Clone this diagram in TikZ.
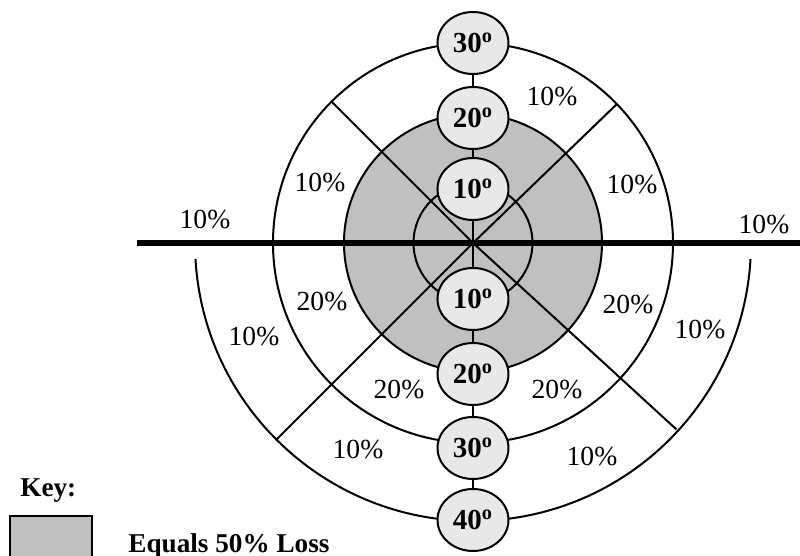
\documentclass[tikz,border=0pt]{standalone}
\usepackage{fontspec}
\setmainfont{Liberation Serif}
\usetikzlibrary{shapes.geometric, positioning}
\definecolor{lossgray}{HTML}{C0C0C0}
\definecolor{degfill}{HTML}{E8E8E8}

\begin{document}
\begin{tikzpicture}[x=0.5pt, y=0.5pt,
    deg/.style={ellipse, draw, line width=1pt, fill=degfill, minimum width=35.5pt, minimum height=31pt, inner sep=0pt, font=\fontsize{14.5}{16}\selectfont\bfseries},
    pct/.style={inner sep=0pt, font=\fontsize{13.8}{16}\selectfont},
    keytext/.style={inner sep=0pt, anchor=base west, font=\fontsize{13.6}{16}\selectfont\bfseries},
    ring/.style={line width=1pt},
    link/.style={line width=1pt}]
    \useasboundingbox (-473,-313) rectangle (327,243);
    \coordinate (c) at (0,0);
    % rings
    \draw [ring, fill=lossgray] (c) circle (129);
    \draw [ring] (c) circle (59.5);
    \draw [ring] (c) circle (200);
    \draw [ring] (183.3:278) arc[start angle=183.3, end angle=356.7, radius=278];
    \draw [ring] (c) -- (44:200);
    \draw [ring] (c) -- (135:200);
    \draw [ring] (c) -- (-42.5:276);
    \draw [ring] (c) -- (-135:278);
    % degree marks
    \node [deg] (t30) at (0,200) {30\textsuperscript{o}};
    \node [deg] (t20) at (0,125) {20\textsuperscript{o}};
    \node [deg] (t10) at (0,54) {10\textsuperscript{o}};
    \node [deg] (b10) at (0,-56) {10\textsuperscript{o}};
    \node [deg] (b20) at (0,-131) {20\textsuperscript{o}};
    \node [deg] (b30) at (0,-205) {30\textsuperscript{o}};
    \node [deg] (b40) at (0,-277) {40\textsuperscript{o}};
    \draw [link] (t30) -- (t20);
    \draw [link] (t20) -- (t10);
    \draw [link] (t10) -- (c);
    \draw [link] (c) -- (b10);
    \draw [link] (b10) -- (b20);
    \draw [link] (b20) -- (b30);
    \draw [link] (b30) -- (b40);
    \coordinate (hl) at (-336,0);
    \coordinate (hr) at (327,0);
    \draw [line width=3pt] (hl) -- (hr);
    % percentages
    \node [pct] (p1) at (79,146) {10\%};
    \node [pct] (p2) at (-153,60) {10\%};
    \node [pct] (p3) at (159,58) {10\%};
    \node [pct] (p4) at (-268,23) {10\%};
    \node [pct] (p5) at (291,18) {10\%};
    \node [pct] (p6) at (-151,-59) {20\%};
    \node [pct] (p7) at (-219,-94) {10\%};
    \node [pct] (p8) at (155,-62) {20\%};
    \node [pct] (p9) at (227,-87) {10\%};
    \node [pct] (p10) at (-74,-147) {20\%};
    \node [pct] (p11) at (84,-147) {20\%};
    \node [pct] (p12) at (-115,-207) {10\%};
    \node [pct] (p13) at (119,-214) {10\%};
    % key
    \node [keytext] (key) at (-453,-254) {Key:};
    \node [draw, line width=1pt, fill=lossgray, anchor=north west, minimum width=41pt, minimum height=30pt, inner sep=0pt] (keybox) at (-464,-272) {};
    \node [keytext] (keylabel) at (-345,-310) {Equals 50\% Loss};
\end{tikzpicture}
\end{document}
